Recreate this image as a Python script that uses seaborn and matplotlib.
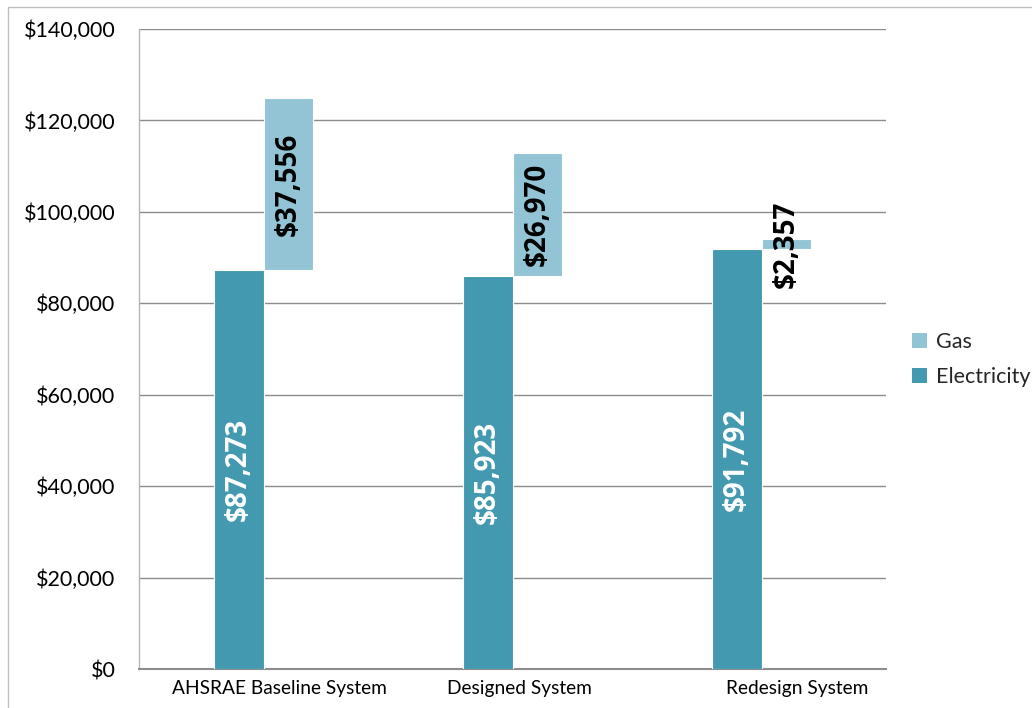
import matplotlib
matplotlib.use("Agg")
import matplotlib.pyplot as plt
from matplotlib.lines import Line2D
from matplotlib.patches import Patch
from matplotlib.ticker import FuncFormatter
import seaborn as sns
import pandas as pd

# Annual energy cost by system
systems = ["AHSRAE Baseline System", "Designed System", "Redesign System"]
electricity = [87273, 85923, 91792]
gas = [37556, 26970, 2357]

elec_color = "#4399AF"
gas_color = "#93C4D5"

sns.set_theme(style="white")
plt.rcParams["font.family"] = ["Lato", "DejaVu Sans"]

fig = plt.figure(figsize=(10.32, 7.08), dpi=100)
ax = fig.add_axes([139 / 1032, 39 / 708, 747 / 1032, 640 / 708])

pos = list(range(len(systems)))
elec_df = pd.DataFrame({"x": [p - 0.1 for p in pos], "cost": electricity})
gas_df = pd.DataFrame({"x": [p + 0.1 for p in pos], "cost": gas})

sns.barplot(data=elec_df, x="x", y="cost", native_scale=True, width=0.2,
            color=elec_color, saturation=1, errorbar=None, ax=ax,
            edgecolor="white", linewidth=0.8, zorder=3)
sns.barplot(data=gas_df, x="x", y="cost", native_scale=True, width=0.2,
            color=gas_color, saturation=1, errorbar=None, ax=ax,
            bottom=electricity, edgecolor="white", linewidth=0.8, zorder=3)

# value labels, rotated, centred on each segment
label_font = ["Open Sans", "DejaVu Sans"]
for p, e, g in zip(pos, electricity, gas):
    ax.text(p - 0.1, e / 2, f"${e:,}", rotation=90, ha="center", va="center",
            color="white", fontsize=20, fontweight="bold", family=label_font,
            zorder=5)
    ax.text(p + 0.1, e + g / 2, f"${g:,}", rotation=90, ha="center", va="center",
            color="black", fontsize=20, fontweight="bold", family=label_font,
            zorder=5)

ax.set_xlim(-0.5, 2.5)
ax.set_ylim(0, 140000)
ax.set_yticks(range(0, 140001, 20000))
ax.yaxis.set_major_formatter(FuncFormatter(lambda v, _: f"${v:,.0f}"))

# category labels sit slightly right of each bar pair
label_shift = [0.066, 0.026, 0.143]
ax.set_xticks([p + s for p, s in zip(pos, label_shift)])
ax.set_xticklabels(systems)

ax.set_xlabel("")
ax.set_ylabel("")
ax.tick_params(axis="y", length=0, pad=17, labelsize=15.5, labelcolor="black")
ax.tick_params(axis="x", length=0, pad=8, labelsize=13.8, labelcolor="black")

ax.grid(axis="y", color="#8c8c8c", linewidth=1.0, zorder=0)
ax.grid(axis="x", visible=False)
ax.set_axisbelow(True)
for side in ("top", "right"):
    ax.spines[side].set_visible(False)
ax.spines["left"].set_color("#b5b5b5")
ax.spines["left"].set_linewidth(1.0)
ax.spines["bottom"].set_color("#8c8c8c")
ax.spines["bottom"].set_linewidth(1.5)

handles = [Patch(facecolor=gas_color, edgecolor="none", label="Gas"),
           Patch(facecolor=elec_color, edgecolor="none", label="Electricity")]
fig.legend(handles=handles, loc="center left", bbox_to_anchor=(0.875, 0.492),
           frameon=False, fontsize=15.5, handlelength=0.7, handleheight=0.7,
           handletextpad=0.45, labelspacing=0.7, borderaxespad=0)

# outer chart frame
fig.add_artist(Line2D([8 / 1032, 1.0], [1 - 7 / 708, 1 - 7 / 708],
                      transform=fig.transFigure, color="#c0c0c0", linewidth=1))
fig.add_artist(Line2D([8 / 1032, 8 / 1032], [0.0, 1 - 7 / 708],
                      transform=fig.transFigure, color="#c0c0c0", linewidth=1))

fig.savefig("out.png", dpi=100)
